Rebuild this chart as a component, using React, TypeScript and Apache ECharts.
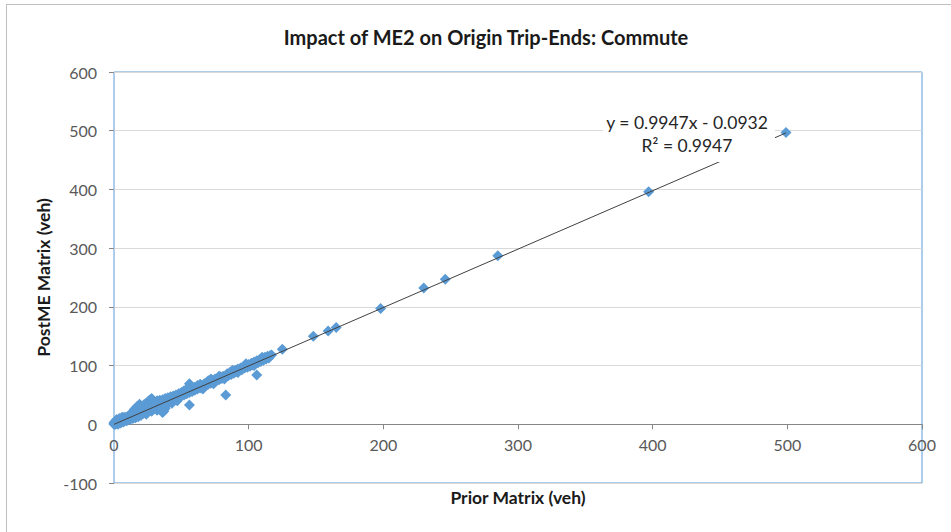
import React, { useEffect, useRef } from "react";
import * as echarts from "echarts";

const TITLE = "Impact of ME2 on Origin Trip-Ends: Commute";
const X_NAME = "Prior Matrix (veh)";
const Y_NAME = "PostME Matrix (veh)";
const EQUATION = "y = 0.9947x - 0.0932";
const R2_TEXT = "R² = 0.9947";
const SLOPE = 0.9947;
const INTERCEPT = -0.0932;

// [Prior Matrix, PostME Matrix] pairs
const clusterLow: number[][] = [
  [0, 0], [0, 1], [1, 0], [1, 2], [0, 3], [2, 1], [2, 4], [3, 2], [3, 6], [4, 3], [4, 7],
  [5, 4], [5, 9], [6, 5], [6, 10], [7, 6], [7, 11], [8, 7], [8, 12], [9, 8], [9, 11],
  [10, 9], [10, 13], [2, 8], [4, 10], [6, 12], [3, 0], [5, 2], [7, 4], [9, 6], [1, 5],
  [8, 10], [10, 7],
  [11, 10], [11, 15], [12, 11], [12, 16], [13, 12], [13, 18], [14, 13], [14, 17], [15, 12],
  [15, 19], [16, 15], [16, 21], [17, 14], [17, 22], [18, 16], [18, 25], [19, 18], [19, 24],
  [20, 17], [20, 27], [12, 8], [14, 10], [16, 11], [18, 13], [20, 15], [15, 25], [17, 30],
  [19, 34],
];
const clusterMid: number[][] = [
  [21, 20], [21, 30], [22, 19], [22, 33], [23, 22], [23, 34], [24, 21], [24, 36], [25, 24],
  [25, 38], [26, 23], [26, 40], [27, 27], [27, 42], [28, 26], [28, 44], [29, 28], [29, 40],
  [30, 27], [30, 38], [31, 30], [31, 36], [32, 29], [32, 40], [33, 31], [33, 37], [34, 30],
  [34, 41], [35, 26], [35, 35], [22, 26], [26, 31], [30, 33], [24, 17], [28, 22], [32, 24],
  [36, 20], [37, 22], [34, 25], [38, 27],
  [36, 34], [36, 42], [37, 36], [38, 37], [38, 44], [39, 38], [40, 36], [40, 45], [41, 41],
  [42, 39], [42, 47], [43, 43], [44, 41], [44, 48], [45, 46], [46, 44], [46, 50], [47, 47],
  [48, 45], [48, 52], [49, 50], [50, 48], [50, 54], [39, 32], [43, 36], [47, 40],
  [51, 52], [52, 50], [52, 57], [53, 54], [54, 52], [54, 60], [55, 56], [56, 54], [56, 69],
  [56, 33], [57, 58], [58, 56], [58, 62], [59, 60], [60, 58], [60, 63],
];
const clusterHigh: number[][] = [
  [61, 62], [62, 60], [63, 64], [64, 62], [65, 66], [66, 64], [67, 69], [68, 66], [69, 71],
  [70, 68], [71, 73], [72, 70], [73, 75], [74, 72], [75, 77], [76, 74], [77, 78], [78, 76],
  [79, 81], [80, 78], [64, 68], [72, 77], [62, 66], [66, 60], [70, 74], [74, 69], [78, 82],
  [82, 77],
  [81, 82], [82, 80], [83, 50], [84, 86], [85, 83], [86, 88], [87, 85], [88, 89], [89, 87],
  [90, 92], [91, 90], [92, 94], [93, 91], [94, 96], [95, 93], [96, 98], [97, 96], [98, 100],
  [99, 97], [100, 102], [101, 99], [102, 104], [103, 101], [104, 106], [105, 103], [106, 84],
  [106, 108], [107, 105], [108, 110], [109, 107], [110, 112], [111, 109], [112, 114],
  [113, 111], [114, 116], [115, 113], [116, 117], [117, 118], [88, 92], [92, 88],
  [98, 103], [104, 100], [110, 114],
];
const largeZones: number[][] = [
  [125, 128], [148, 150], [159, 159], [165, 165], [198, 197], [230, 232], [246, 247],
  [285, 287], [397, 396], [499, 497],
];

const X_TICKS = [0, 600, 100];
const Y_TICKS = [-100, 600, 100];

const FONT = "Lato, 'Open Sans', sans-serif";
const GRID_TOP = 72;
const GRID_BOTTOM = 49;
const CHART_H = 532;

export default function App() {
  const ref = useRef<HTMLDivElement>(null);
  useEffect(() => {
    if (!ref.current) return;
    const chart = echarts.init(ref.current, undefined, { renderer: "svg" });
    const points = [...clusterLow, ...clusterMid, ...clusterHigh, ...largeZones];
    const xs = points.map((p) => p[0]);
    const xMin = Math.min(...xs);
    const xMax = Math.max(...xs);
    const trend = [
      [xMin, SLOPE * xMin + INTERCEPT],
      [xMax, SLOPE * xMax + INTERCEPT],
    ];
    // shift the x axis (line, ticks, labels, name) from the bottom edge up to y = 0
    const plotH = CHART_H - GRID_TOP - GRID_BOTTOM;
    const zeroOffset = -((0 - Y_TICKS[0]) / (Y_TICKS[1] - Y_TICKS[0])) * plotH;
    chart.setOption({
      animation: false,
      backgroundColor: "#ffffff",
      textStyle: { fontFamily: FONT },
      title: {
        text: TITLE,
        left: 481,
        top: 22,
        textAlign: "center",
        textStyle: { fontFamily: FONT, fontSize: 20, fontWeight: "bold", color: "#1a1a1a" },
      },
      grid: {
        left: 114,
        top: GRID_TOP,
        right: 29,
        bottom: GRID_BOTTOM,
        outerBoundsMode: "none",
        containLabel: false,
        show: true,
        borderColor: "#5b9bd5",
        borderWidth: 1,
        backgroundColor: "transparent",
      },
      xAxis: {
        type: "value",
        min: X_TICKS[0],
        max: X_TICKS[1],
        interval: X_TICKS[2],
        offset: zeroOffset,
        name: X_NAME,
        nameLocation: "middle",
        nameGap: 64,
        nameTextStyle: { fontFamily: FONT, fontSize: 17.5, fontWeight: "bold", color: "#1a1a1a" },
        axisLine: { show: true, onZero: false, lineStyle: { color: "#868686", width: 1 } },
        axisTick: { show: true, inside: false, length: 5, lineStyle: { color: "#868686" } },
        axisLabel: { margin: 12, fontSize: 16, color: "#595959", fontFamily: FONT },
        splitLine: { show: false },
      },
      yAxis: {
        type: "value",
        min: Y_TICKS[0],
        max: Y_TICKS[1],
        interval: Y_TICKS[2],
        name: Y_NAME,
        nameLocation: "middle",
        nameGap: 58,
        nameTextStyle: { fontFamily: FONT, fontSize: 17.5, fontWeight: "bold", color: "#1a1a1a" },
        axisLine: { show: false, onZero: false },
        axisTick: { show: true, inside: false, length: 5, lineStyle: { color: "#868686" } },
        axisLabel: { margin: 17, fontSize: 16, color: "#595959", fontFamily: FONT },
        splitLine: { show: true, lineStyle: { color: "#d9d9d9", width: 1 } },
      },
      series: [
        {
          type: "scatter",
          data: points,
          symbol: "diamond",
          symbolSize: 11,
          itemStyle: { color: "#5b9bd5", opacity: 1 },
          z: 2,
        },
        {
          type: "line",
          data: trend,
          showSymbol: false,
          symbol: "none",
          lineStyle: { color: "#404040", width: 1 },
          z: 3,
          silent: true,
        },
      ],
      graphic: [
        {
          type: "line",
          z: 50,
          shape: { x1: 6, y1: 4.5, x2: 951, y2: 4.5 },
          style: { stroke: "#bfbfbf", lineWidth: 1 },
        },
        {
          type: "line",
          z: 50,
          shape: { x1: 6.5, y1: 4, x2: 6.5, y2: 532 },
          style: { stroke: "#bfbfbf", lineWidth: 1 },
        },
        {
          type: "rect",
          z: 50,
          shape: { x: 603, y: 110, width: 172, height: 52 },
          style: { fill: "#ffffff" },
        },
        {
          type: "text",
          z: 51,
          x: 687,
          y: 111,
          style: {
            text: EQUATION + "\n" + R2_TEXT,
            fontFamily: FONT,
            fontSize: 17.5,
            lineHeight: 23,
            fill: "#262626",
            align: "center",
            verticalAlign: "top",
          },
        },
      ],
    });
    return () => chart.dispose();
  }, []);
  return (
    <div
      ref={ref}
      style={{ position: "fixed", left: 0, top: 0, width: 951, height: 532 }}
    />
  );
}
